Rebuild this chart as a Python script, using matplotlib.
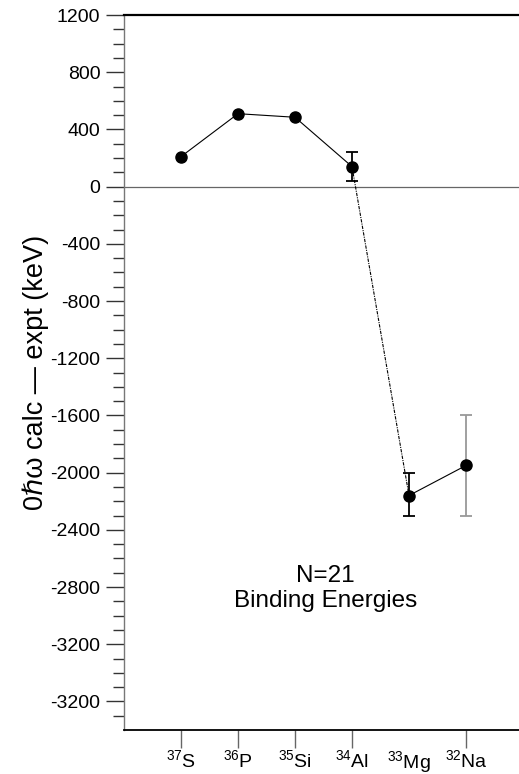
import numpy as np
import matplotlib
matplotlib.use('Agg')
import matplotlib.pyplot as plt

plt.rcParams['font.family'] = ['Liberation Sans', 'DejaVu Sans']
plt.rcParams['mathtext.fontset'] = 'custom'
plt.rcParams['mathtext.rm'] = 'Liberation Sans'
plt.rcParams['mathtext.it'] = 'Liberation Sans:italic'

# nuclei along N=21 and the binding energy difference calc - expt (keV)
nuclei = [r'$^{37}$S', r'$^{36}$P', r'$^{35}$Si', r'$^{34}$Al', r'$^{33}$Mg', r'$^{32}$Na']
x_pos = [1, 2, 3, 4, 5, 6]
diff = [210, 510, 485, 140, -2160, -1950]
err_lo = [0, 0, 0, 100, 140, 350]
err_hi = [0, 0, 0, 100, 160, 350]
err_color = [None, None, None, 'black', 'black', '#999999']

# y tick labels as printed (last one really is -3600)
ytick_vals = [1200, 800, 400, 0, -400, -800, -1200, -1600, -2000, -2400, -2800, -3200, -3600]
ytick_labels = ['1200', '800', '400', '0', '-400', '-800', '-1200', '-1600', '-2000',
                '-2400', '-2800', '-3200', '-3200']

fig = plt.figure(figsize=(5.19, 7.74), dpi=100)
ax = fig.add_axes([0.239, 0.0568, 0.761, 0.9238])

# connecting line
ax.plot(x_pos[:4], diff[:4], color='black', linewidth=0.8, zorder=2)
ax.plot(x_pos[3:5], diff[3:5], color='black', linewidth=0.8, linestyle=(0, (3, 1, 1, 1)), zorder=2)
ax.plot(x_pos[4:], diff[4:], color='black', linewidth=0.8, zorder=2)

for xi, yi, lo, hi, c in zip(x_pos, diff, err_lo, err_hi, err_color):
    if c is None:
        continue
    ax.errorbar([xi], [yi], yerr=[[lo], [hi]], fmt='none', ecolor=c,
                elinewidth=1.3, capsize=4, capthick=1.3, zorder=2)

ax.plot(x_pos, diff, 'o', color='black', markersize=8, zorder=3)

ax.axhline(0, color='#666666', linewidth=0.9, zorder=1)

ax.set_xlim(0, 6.93)
ax.set_ylim(-3800, 1200)

ax.set_yticks(ytick_vals)
ax.set_yticklabels(ytick_labels)
ax.set_yticks(np.arange(-3700, 1200, 100), minor=True)
ax.set_xticks(x_pos)
ax.set_xticklabels(nuclei)
# 33Mg label has no tick mark
ax.xaxis.get_major_ticks()[4].tick1line.set_visible(False)

ax.tick_params(axis='y', which='major', direction='out', length=13, width=1.0,
               color='#333333', labelsize=14, pad=4)
ax.tick_params(axis='y', which='minor', direction='out', length=8, width=1.0,
               color='#333333')
ax.tick_params(axis='x', which='major', direction='out', length=13, width=1.0,
               color='#666666', labelsize=14, pad=0.5)

ax.spines['right'].set_visible(False)
ax.spines['top'].set_linewidth(1.6)
ax.spines['bottom'].set_linewidth(1.3)
ax.spines['left'].set_color('#777777')
ax.spines['left'].set_linewidth(1.0)

ax.set_ylabel('0\u210f\u03c9 calc \u2014 expt (keV)', fontsize=19.5, labelpad=1)

ax.text(3.53, -2810, 'N=21\nBinding Energies', ha='center', va='center',
        fontsize=17.5, linespacing=1.15)

fig.savefig('out.png', dpi=100)
